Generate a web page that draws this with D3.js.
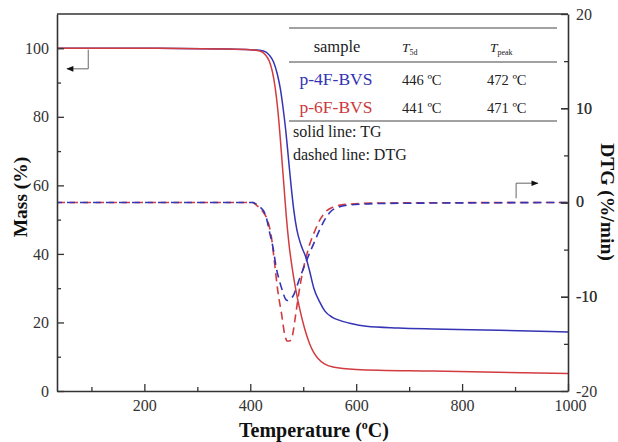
<!DOCTYPE html>
<html lang="en">
<head>
<meta charset="UTF-8">
<title>TGA / DTG</title>
<script src="https://d3js.org/d3.v7.min.js"></script>
<style>
  body { margin: 0; background: #fff; }
  svg { display: block; font-family: "Liberation Serif", "Times New Roman", serif; }
</style>
</head>
<body>
<div id="chart"></div>
<script>
// Data: temperature (°C) vs value
const tgTemp4F = [35, 200, 350, 400, 425, 436, 444, 451, 457, 462, 467, 472, 477, 482, 488, 496, 505, 512, 520, 531, 541, 555, 569, 590, 619, 680, 744, 870, 1000];
const tgMass4F = [100, 100, 99.8, 99.6, 99.2, 98, 96, 92.5, 88, 82.5, 76, 68, 60, 53, 47, 42.5, 39, 35, 30, 26, 23.3, 21.5, 20.6, 19.7, 18.9, 18.4, 18.1, 17.7, 17.2];

const tgTemp6F = [35, 200, 350, 400, 418, 428, 436, 442, 447, 452, 456, 460, 464, 468, 473, 479, 486, 494, 503, 512, 520, 528, 540, 556, 600, 745, 1000];
const tgMass6F = [100, 100, 99.8, 99.6, 99.2, 98.2, 96.2, 93, 88.5, 82, 75, 67, 59, 51, 43, 36, 29.5, 23.5, 18, 13.8, 11.2, 9.5, 7.9, 7.0, 6.3, 5.8, 5.1];

const dtgTemp4F = [35, 405, 414, 428, 437, 443, 449, 455, 461, 466, 470, 475, 482, 491, 501, 511, 521, 531, 541, 551, 566, 590, 650, 1000];
const dtgRate4F = [0, 0, -0.3, -1.2, -3.3, -4.8, -6.9, -8.3, -9.4, -10.2, -10.4, -10.3, -9.8, -8.4, -6.9, -5.5, -4.2, -2.9, -1.8, -1.0, -0.5, -0.25, -0.1, 0];

const dtgTemp6F = [35, 404, 412, 424, 432, 440, 446, 452, 459, 465, 470, 474, 480, 486, 492, 498, 505, 513, 522, 532, 542, 556, 580, 650, 1000];
const dtgRate6F = [0, 0, -0.3, -1.0, -1.8, -3.7, -6.5, -9.4, -11.8, -14.0, -14.7, -14.7, -14.0, -11.8, -9.5, -7.6, -5.9, -4.3, -3.0, -1.8, -1.0, -0.5, -0.2, -0.05, 0];

const xTicks = [200, 400, 600, 800, 1000];
const massTicks = [0, 20, 40, 60, 80, 100];
const dtgTicks = [-20, -10, 0, 10, 20];

const tableRows = [
  { name: 'p-4F-BVS', t5d: '446 \u00BAC', tpeak: '472 \u00BAC', color: '#3434b4' },
  { name: 'p-6F-BVS', t5d: '441 \u00BAC', tpeak: '471 \u00BAC', color: '#cc3a3e' }
];

const blue = '#3434b4';
const red = '#d23c40';
const axisColor = '#333';

const W = 618, H = 442;
const m = { left: 57, top: 14, right: 50, bottom: 51 };

const svg = d3.select('#chart').append('svg')
  .attr('width', W).attr('height', H);

const x = d3.scaleLinear().domain([35, 1000]).range([m.left, W - m.right]);
const yL = d3.scaleLinear().domain([0, 110]).range([H - m.bottom, m.top]);
const yR = d3.scaleLinear().domain([-20, 20]).range([H - m.bottom, m.top]);

const zip = (a, b) => a.map((v, i) => [v, b[i]]);

// curves
const lineL = d3.line().x(d => x(d[0])).y(d => yL(d[1])).curve(d3.curveMonotoneX);
const lineR = d3.line().x(d => x(d[0])).y(d => yR(d[1])).curve(d3.curveMonotoneX);

const plot = svg.append('g');
plot.append('path').attr('d', lineR(zip(dtgTemp6F, dtgRate6F)))
  .attr('fill', 'none').attr('stroke', red).attr('stroke-width', 1.6)
  .attr('stroke-dasharray', '8,5');
plot.append('path').attr('d', lineR(zip(dtgTemp4F, dtgRate4F)))
  .attr('fill', 'none').attr('stroke', blue).attr('stroke-width', 1.6)
  .attr('stroke-dasharray', '8,5').attr('stroke-dashoffset', 3);
plot.append('path').attr('d', lineL(zip(tgTemp4F, tgMass4F)))
  .attr('fill', 'none').attr('stroke', blue).attr('stroke-width', 1.5);
plot.append('path').attr('d', lineL(zip(tgTemp6F, tgMass6F)))
  .attr('fill', 'none').attr('stroke', red).attr('stroke-width', 1.5);

// axes
const fontTick = '16px';
const gx = svg.append('g').attr('transform', `translate(0,${H - m.bottom})`)
  .call(d3.axisBottom(x).tickValues(d3.range(100, 1001, 100)).tickSizeInner(-4).tickSizeOuter(0)
    .tickFormat(d => xTicks.includes(d) ? d : ''));
const gl = svg.append('g').attr('transform', `translate(${m.left},0)`)
  .call(d3.axisLeft(yL).tickValues(d3.range(0, 101, 10)).tickSizeInner(-4).tickSizeOuter(0)
    .tickFormat(d => massTicks.includes(d) ? d : ''));
const gr = svg.append('g').attr('transform', `translate(${W - m.right},0)`)
  .call(d3.axisRight(yR).tickValues(d3.range(-15, 16, 5).concat(dtgTicks)).tickSizeInner(-4).tickSizeOuter(0)
    .tickFormat(d => dtgTicks.includes(d) ? d : ''));

[gx, gl, gr].forEach(g => {
  g.select('.domain').attr('stroke', axisColor).attr('stroke-width', 1.6);
  g.selectAll('.tick line').attr('stroke', axisColor).attr('stroke-width', 1.3);
  g.selectAll('.tick text').attr('fill', '#333').style('font-size', fontTick)
    .style('font-family', '"Liberation Serif", serif');
});
gx.selectAll('.tick').filter(d => xTicks.includes(d)).select('line').attr('y2', -7);
gl.selectAll('.tick').filter(d => massTicks.includes(d)).select('line').attr('x2', 7);
gr.selectAll('.tick').filter(d => dtgTicks.includes(d)).select('line').attr('x2', -7);
gx.selectAll('.tick text').attr('y', 9);
gl.selectAll('.tick text').attr('x', -8);
gr.selectAll('.tick text').attr('x', 8);
gx.selectAll('.tick').filter(d => d === 1000).select('text').attr('dx', 2);
gr.selectAll('.tick').filter(d => d === 0).select('text').attr('dy', '0.25em');

// top frame line
svg.append('line')
  .attr('x1', m.left).attr('x2', W - m.right)
  .attr('y1', m.top).attr('y2', m.top)
  .attr('stroke', axisColor).attr('stroke-width', 1.6);

// axis titles
const xt = svg.append('text').attr('x', 314).attr('y', 437)
  .attr('text-anchor', 'middle').attr('font-weight', 'bold').attr('font-size', 20).attr('fill', '#111');
xt.append('tspan').text('Temperature (');
xt.append('tspan').text('o').attr('font-size', 12).attr('dy', -8);
xt.append('tspan').text('C)').attr('dy', 8);

svg.append('text').attr('transform', 'translate(27,197) rotate(-90)')
  .attr('text-anchor', 'middle').attr('font-weight', 'bold').attr('font-size', 19.5).attr('fill', '#111')
  .text('Mass (%)');

svg.append('text').attr('transform', 'translate(601,202) rotate(90)')
  .attr('text-anchor', 'middle').attr('font-weight', 'bold').attr('font-size', 19.5).attr('fill', '#111')
  .text('DTG (%/min)');

// arrows
const defs = svg.append('defs');
defs.append('marker').attr('id', 'ah').attr('viewBox', '0 0 10 10')
  .attr('refX', 9).attr('refY', 5).attr('markerWidth', 9).attr('markerHeight', 7)
  .attr('markerUnits', 'userSpaceOnUse').attr('orient', 'auto')
  .append('path').attr('d', 'M0,1 L10,5 L0,9 Z').attr('fill', '#111');

svg.append('path').attr('d', `M${x(94)},${yL(99.6)} V${yL(94)} H${x(54)}`)
  .attr('fill', 'none').attr('stroke', '#666').attr('stroke-width', 1)
  .attr('marker-end', 'url(#ah)');
svg.append('path').attr('d', `M${x(902)},${yR(0.45)} V${yR(2.05)} H${x(943)}`)
  .attr('fill', 'none').attr('stroke', '#666').attr('stroke-width', 1)
  .attr('marker-end', 'url(#ah)');

// table
const tb = svg.append('g').attr('fill', '#222');
[28, 62, 121].forEach(yy => {
  tb.append('line').attr('x1', 289).attr('x2', 557).attr('y1', yy).attr('y2', yy)
    .attr('stroke', '#444').attr('stroke-width', 1);
});
tb.append('text').attr('x', 337).attr('y', 52).attr('text-anchor', 'middle')
  .attr('font-size', 16.5).text('sample');
const t1 = tb.append('text').attr('x', 402).attr('y', 52).attr('font-size', 13.5);
t1.append('tspan').text('T').attr('font-style', 'italic');
t1.append('tspan').text('5d').attr('font-size', 8).attr('dy', 3);
const t2 = tb.append('text').attr('x', 490).attr('y', 52).attr('font-size', 13.5);
t2.append('tspan').text('T').attr('font-style', 'italic');
t2.append('tspan').text('peak').attr('font-size', 8).attr('dy', 3);

tableRows.forEach((r, i) => {
  const yy = 85 + i * 28;
  tb.append('text').attr('x', 336).attr('y', yy).attr('text-anchor', 'middle')
    .attr('font-size', 17.5).attr('fill', r.color).text(r.name);
  tb.append('text').attr('x', 402).attr('y', yy).attr('font-size', 14.5).text(r.t5d);
  tb.append('text').attr('x', 487).attr('y', yy).attr('font-size', 14.5).text(r.tpeak);
});
tb.append('text').attr('x', 293).attr('y', 137).attr('font-size', 16).text('solid line: TG');
tb.append('text').attr('x', 293).attr('y', 160).attr('font-size', 16).text('dashed line: DTG');
</script>
</body>
</html>
